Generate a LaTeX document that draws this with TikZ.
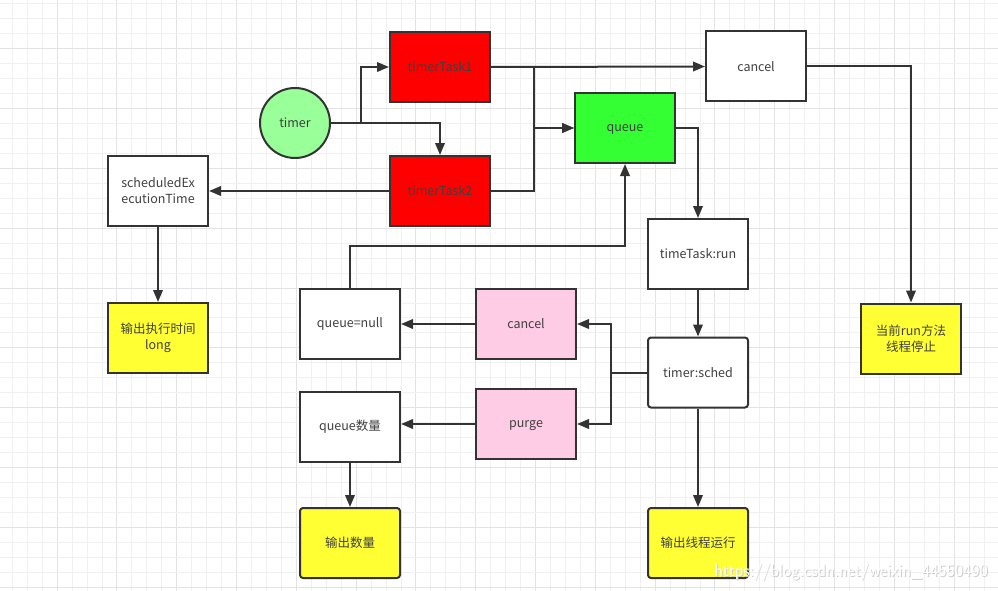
\documentclass[tikz,border=0pt]{standalone}
\usepackage{fontspec}
\setmainfont{Noto Sans CJK SC}
\usetikzlibrary{arrows.meta}
\definecolor{edgec}{HTML}{333333}
\definecolor{textc}{HTML}{404040}
\definecolor{redc}{HTML}{FF0000}
\definecolor{greenc}{HTML}{33FF33}
\definecolor{lightg}{HTML}{99FF99}
\definecolor{pinkc}{HTML}{FFCCE6}
\definecolor{yellowc}{HTML}{FFFF33}
\definecolor{gridminor}{HTML}{F0F0F0}
\definecolor{gridmajor}{HTML}{E3E3E3}
\tikzset{
  box/.style={draw=edgec, line width=2pt, fill=white, minimum width=100pt, minimum height=70pt,
    inner sep=2pt, align=center, text=textc, font=\fontsize{12.5}{16}\selectfont},
  rbox/.style={box, rounded corners=3pt},
  arr/.style={draw=edgec, line width=2pt, -{Triangle[length=12pt,width=9.5pt]}},
  ln/.style={draw=edgec, line width=2pt}
}
\begin{document}
\begin{tikzpicture}[x=1pt,y=-1pt]
\useasboundingbox (0,0) rectangle (998,591);
\fill[white] (0,0) rectangle (998,591);
% grid
\foreach \i in {0,...,66}{
  \pgfmathsetmacro{\xx}{12.3+\i*14.95}
  \pgfmathtruncatemacro{\m}{mod(\i,4)}
  \ifnum\m=3 \draw[gridmajor, line width=1pt] (\xx,0) -- (\xx,591);
  \else \draw[gridminor, line width=1pt] (\xx,0) -- (\xx,591); \fi
}
\foreach \i in {0,...,39}{
  \pgfmathsetmacro{\yy}{4+\i*14.95}
  \pgfmathtruncatemacro{\m}{mod(\i,4)}
  \ifnum\m=3 \draw[gridmajor, line width=1pt] (0,\yy) -- (998,\yy);
  \else \draw[gridminor, line width=1pt] (0,\yy) -- (998,\yy); \fi
}
% nodes
\node[circle, draw=edgec, line width=2pt, fill=lightg, minimum size=70pt, inner sep=0pt,
  text=textc, font=\fontsize{12.5}{16}\selectfont] (timer) at (295,123) {timer};
\node[box, fill=redc] (tt1) at (440,67) {timerTask1};
\node[box, fill=redc] (tt2) at (440,191) {timerTask2};
\node[box] (canA) at (756,66.5) {cancel};
\node[box, fill=greenc] (queue) at (625,128) {\vphantom{l}queue};
\node[box] (sched) at (158,191) {scheduledEx\\ecutionTime};
\node[box, fill=yellowc] (long) at (158,338) {输出执行时间\\long};
\node[box, fill=yellowc] (stop) at (911,338.5) {当前run方法\\线程停止};
\node[box] (run) at (698,254) {timeTask:run};
\node[rbox] (ts) at (698,372.5) {timer:sched};
\node[box, fill=pinkc] (pc) at (526,324) {cancel};
\node[box, fill=pinkc] (purge) at (526,424) {\vphantom{l}purge};
\node[box] (qnull) at (350,324) {queue=null};
\node[box] (qcount) at (350,427) {queue数量};
\node[rbox, fill=yellowc] (outcount) at (350,543) {输出数量};
\node[rbox, fill=yellowc] (outrun) at (698,543) {输出线程运行};
% connectors
\draw[arr] (timer.east) -- ++(30,0) |- (tt1.west);
\draw[arr] (timer.east) -| (tt2.north);
\draw[arr] (tt1.east) -- (canA.west);
\draw[arr] (tt1.east) -- ++(43,0) |- (queue.west);
\draw[arr] (tt2.east) -- ++(43,0) |- (queue.west);
\draw[arr] (tt2.west) -- (sched.east);
\draw[arr] (sched.south) -- (long.north);
\draw[arr] (canA.east) -| (stop.north);
\draw[arr] (queue.east) -| (run.north);
\draw[arr] (run.south) -- (ts.north);
\draw[arr] (ts.west) -- ++(-36,0) |- (pc.east);
\draw[arr] (ts.west) -- ++(-36,0) |- (purge.east);
\draw[arr] (pc.west) -- (qnull.east);
\draw[arr] (purge.west) -- (purge.west -| qcount.east);
\draw[arr] (qcount.south) -- (outcount.north);
\draw[arr] (ts.south) -- (outrun.north);
\draw[arr] (qnull.north) -- ++(0,-42) -| (queue.south);
% watermark
\node[text=black!20, font=\fontsize{17.5}{20}\selectfont\sffamily, anchor=east, inner sep=0pt] (wm0) at (989,573) {https://blog.csdn.net/weixin\_44550490};
\node[text=white, font=\fontsize{17.5}{20}\selectfont\sffamily, anchor=east, inner sep=0pt] (wm) at (988,572) {https://blog.csdn.net/weixin\_44550490};
\end{tikzpicture}
\end{document}
